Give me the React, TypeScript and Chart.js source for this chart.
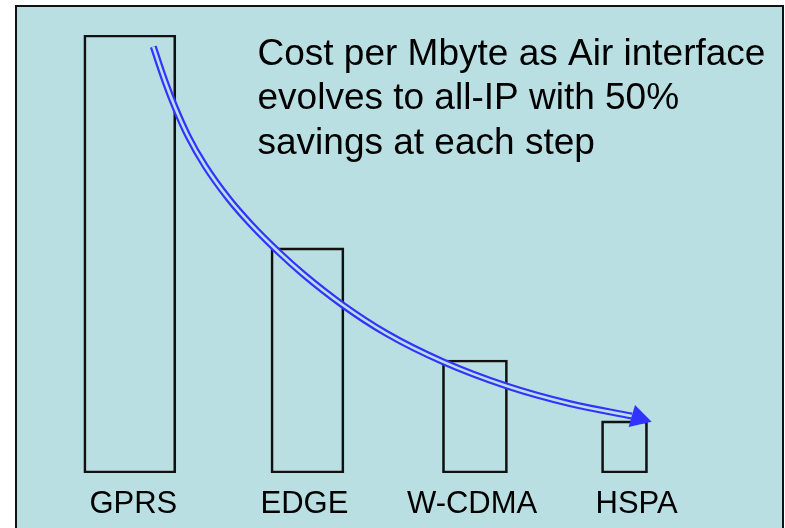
import { useEffect, useRef } from 'react';
import { Chart, registerables } from 'chart.js';

Chart.register(...registerables);

// ---------- data ----------
const categories = ['GPRS', 'EDGE', 'W-CDMA', 'HSPA'];
const costValues = [100, 51.4, 25.8, 11.9];
const barPositions = [1, 2, 2.943, 3.785];
const labelPositions = [1.02, 1.983, 2.927, 3.853];
// arrow path (data units)
const arrowX = [1.132, 1.198, 1.2545, 1.329, 1.423, 1.5545, 1.686, 1.836, 1.977, 2.193, 2.446, 2.765, 3.122, 3.478, 3.826];
const arrowY = [97.33, 89.45, 83.52, 76.83, 70.16, 62.72, 56.58, 50.5, 45.37, 38.52, 31.83, 25.37, 19.86, 15.82, 13.01];
const arrowTip = [3.938, 11.7];
const titleLines = [
  'Cost per Mbyte as Air interface',
  'evolves to all-IP with 50%',
  'savings at each step',
];

// ---------- styles ----------
const FONT = '"Liberation Sans", Arial, sans-serif';
const BG = '#BADFE2';
const BLUE = '#3333FF';
const BAR_THICKNESS = [92, 73, 65, 46];

const framePlugin = {
  id: 'frame',
  beforeDraw(chart: any) {
    const { ctx } = chart;
    ctx.save();
    ctx.fillStyle = '#ffffff';
    ctx.fillRect(0, 0, chart.width, chart.height);
    ctx.fillStyle = BG;
    ctx.fillRect(16, 6, 767, chart.height);
    ctx.strokeStyle = '#111';
    ctx.lineWidth = 2;
    ctx.strokeRect(16, 6, 767, chart.height + 20);
    ctx.restore();
  },
};

const annotPlugin = {
  id: 'annot',
  afterDatasetsDraw(chart: any) {
    const { ctx } = chart;
    const xs = chart.scales.x;
    const ys = chart.scales.y;
    const bx = xs.getPixelForValue(arrowX[arrowX.length - 1]);
    const by = ys.getPixelForValue(arrowY[arrowY.length - 1]);
    const tx = xs.getPixelForValue(arrowTip[0]);
    const ty = ys.getPixelForValue(arrowTip[1]);
    const dx = tx - bx;
    const dy = ty - by;
    const len = Math.hypot(dx, dy);
    const nx = -dy / len;
    const ny = dx / len;
    const hw = 11.5;
    ctx.save();
    ctx.fillStyle = BLUE;
    ctx.beginPath();
    ctx.moveTo(tx, ty);
    ctx.lineTo(bx + nx * hw, by + ny * hw);
    ctx.lineTo(bx - nx * hw, by - ny * hw);
    ctx.closePath();
    ctx.fill();
    ctx.restore();
  },
  afterDraw(chart: any) {
    const { ctx } = chart;
    ctx.save();
    ctx.fillStyle = '#000';
    ctx.font = `37px ${FONT}`;
    ctx.textBaseline = 'alphabetic';
    ctx.textAlign = 'left';
    titleLines.forEach((t, i) => {
      ctx.fillText(t, 257.5, 64.5 + i * 44.5);
    });
    ctx.restore();
  },
};

export default function App() {
  const ref = useRef<HTMLCanvasElement | null>(null);

  useEffect(() => {
    if (!ref.current) return;
    const barSets = categories.map((c, i) => ({
      type: 'bar' as const,
      label: c,
      data: [{ x: barPositions[i], y: costValues[i] }],
      backgroundColor: 'rgba(0,0,0,0)',
      borderColor: '#111',
      borderWidth: 2,
      borderSkipped: false,
      barThickness: BAR_THICKNESS[i],
      grouped: false,
      order: 3,
    }));
    const arrowPts = arrowX.map((x, i) => ({ x, y: arrowY[i] }));
    const chart = new Chart(ref.current, {
      type: 'bar',
      data: {
        datasets: [
          ...barSets,
          {
            type: 'line' as const,
            label: 'arrow',
            data: arrowPts,
            borderColor: BLUE,
            borderWidth: 7,
            pointRadius: 0,
            cubicInterpolationMode: 'monotone',
            fill: false,
            order: 2,
          },
          {
            type: 'line' as const,
            label: 'arrowGap',
            data: arrowPts,
            borderColor: BG,
            borderWidth: 2.6,
            pointRadius: 0,
            cubicInterpolationMode: 'monotone',
            fill: false,
            order: 1,
          },
        ] as any,
      },
      options: {
        animation: false,
        responsive: false,
        devicePixelRatio: 1,
        layout: { padding: { top: 35, left: 41, right: 69, bottom: 0 } },
        plugins: {
          legend: { display: false },
          tooltip: { enabled: false },
          title: { display: false },
        },
        scales: {
          x: {
            type: 'linear',
            min: 0.5,
            max: 4.3,
            offset: false,
            grid: { display: false },
            border: { display: false },
            afterBuildTicks: (scale: any) => {
              scale.ticks = labelPositions.map((v) => ({ value: v }));
            },
            afterFit: (scale: any) => {
              scale.height = 55;
            },
            ticks: {
              autoSkip: false,
              maxRotation: 0,
              padding: 5,
              color: '#000',
              font: { family: FONT, size: 31 },
              callback: (_v: any, i: number) => categories[i],
            },
          },
          y: {
            display: false,
            min: 0,
            max: 100,
          },
        },
      },
      plugins: [framePlugin, annotPlugin],
    });
    return () => chart.destroy();
  }, []);

  return (
    <div style={{ position: 'absolute', left: 0, top: 0, width: 785, height: 528 }}>
      <canvas ref={ref} width={785} height={528} />
    </div>
  );
}
